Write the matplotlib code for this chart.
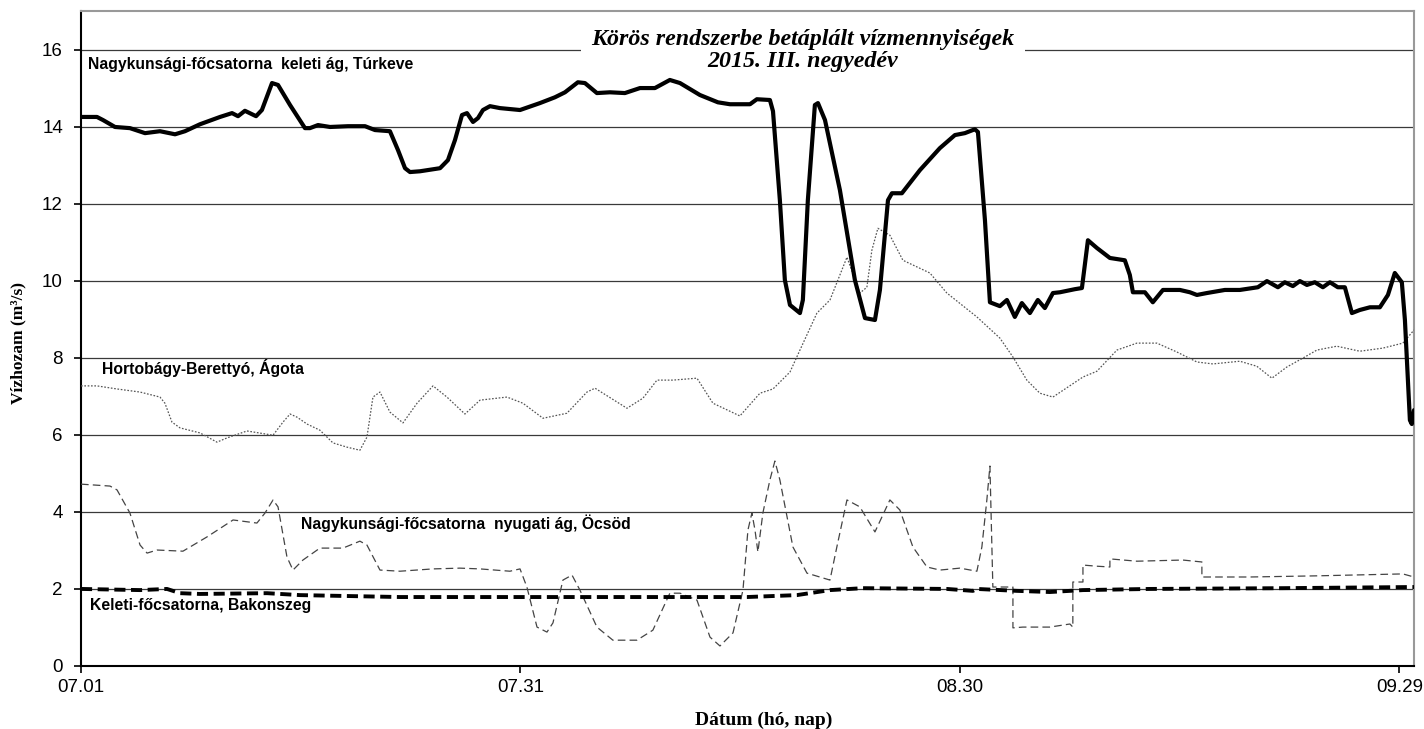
import matplotlib
matplotlib.use("Agg")
import matplotlib.pyplot as plt

plt.rcParams['lines.scale_dashes'] = False

# ---- data (x = days since 07.01, y = discharge m3/s) ----
turkeve_day = [0, 1.09, 1.5, 2.32, 3.34, 4.37, 5.39, 6.42, 7.1, 8.12, 9.49, 10.31, 10.72, 11.19,
               11.95, 12.35, 13.04, 13.45, 14.27, 15.29, 15.63, 16.18, 17.0, 18.23, 19.39, 20.07,
               21.09, 21.64, 22.12, 22.46, 23.14, 24.51, 25.05, 25.53, 26.01, 26.35, 26.76, 27.1,
               27.44, 27.92, 28.6, 29.97, 31.33, 32.35, 33.04, 33.92, 34.4, 35.22, 36.11, 37.13,
               38.16, 39.18, 40.2, 40.89, 42.25, 43.48, 44.3, 45.67, 46.14, 47.03, 47.24, 47.71,
               48.05, 48.4, 49.08, 49.28, 49.62, 50.1, 50.31, 50.79, 51.81, 52.83, 53.52, 54.2,
               54.54, 55.09, 55.36, 56.04, 57.27, 58.63, 59.66, 60.34, 61.02, 61.23, 61.71, 62.05,
               62.73, 63.21, 63.75, 64.23, 64.78, 65.32, 65.8, 66.35, 66.83, 67.85, 68.33, 68.74,
               69.35, 70.24, 71.26, 71.6, 71.81, 72.63, 73.17, 73.86, 75.02, 75.7, 76.18, 76.86,
               78.09, 79.11, 80.34, 80.96, 81.71, 82.18, 82.73, 83.21, 83.69, 84.23, 84.78, 85.26,
               85.8, 86.28, 86.76, 87.3, 87.99, 88.67, 89.22, 89.69, 90.17, 90.38, 90.72, 90.85, 91.0]
turkeve_q = [14.25, 14.25, 14.17, 13.99, 13.96, 13.83, 13.88, 13.80, 13.88, 14.06, 14.25, 14.35, 14.27, 14.41,
             14.27, 14.43, 15.13, 15.08, 14.56, 13.96, 13.96, 14.04, 13.99, 14.01, 14.01, 13.91,
             13.88, 13.39, 12.92, 12.82, 12.84, 12.92, 13.13, 13.65, 14.30, 14.35, 14.12, 14.22,
             14.43, 14.53, 14.48, 14.43, 14.61, 14.76, 14.89, 15.15, 15.13, 14.87, 14.89, 14.87,
             15.0, 15.0, 15.21, 15.13, 14.82, 14.63, 14.58, 14.58, 14.71, 14.69, 14.40, 12.09,
             10.02, 9.37, 9.16, 9.50, 12.09, 14.56, 14.61, 14.17, 12.35, 10.02, 9.03, 8.98,
             9.76, 12.09, 12.27, 12.27, 12.87, 13.44, 13.78, 13.83, 13.93, 13.86, 11.57, 9.44,
             9.34, 9.50, 9.06, 9.42, 9.16, 9.50, 9.29, 9.68, 9.70, 9.78, 9.81, 11.05,
             10.85, 10.59, 10.53, 10.15, 9.70, 9.70, 9.44, 9.76, 9.76, 9.70, 9.63, 9.68,
             9.76, 9.76, 9.83, 9.99, 9.83, 9.96, 9.86, 9.99, 9.89, 9.96, 9.83, 9.96,
             9.83, 9.83, 9.16, 9.24, 9.31, 9.31, 9.63, 10.2, 9.96, 8.98, 6.38, 6.28, 6.64]

agota_day = [0, 1.09, 2.46, 4.03, 5.39, 5.73, 6.21, 6.76, 8.12, 9.28, 9.97, 11.33, 13.11, 13.79,
             14.27, 14.74, 15.43, 16.31, 17.2, 18.16, 19.04, 19.52, 19.93, 20.41, 21.09, 21.98,
             22.94, 24.03, 24.98, 26.21, 27.24, 29.08, 30.17, 31.54, 33.17, 34.54, 35.09, 37.27,
             38.36, 39.32, 40.41, 42.05, 43.14, 44.98, 46.35, 47.24, 48.4, 49.08, 50.24, 51.13,
             52.29, 53.17, 53.65, 53.99, 54.4, 55.22, 56.11, 57.95, 59.11, 61.16, 62.73, 63.62,
             64.57, 65.46, 66.35, 68.4, 69.35, 70.72, 72.08, 73.45, 74.81, 76.18, 77.27, 79.11,
             80.27, 81.3, 82.32, 83.41, 84.37, 85.73, 87.3, 88.87, 90.24, 91.0]
agota_q = [7.27, 7.27, 7.19, 7.11, 6.98, 6.82, 6.33, 6.18, 6.05, 5.81, 5.92, 6.10, 5.99, 6.33,
           6.54, 6.46, 6.28, 6.12, 5.79, 5.68, 5.60, 5.94, 6.98, 7.11, 6.59, 6.31,
           6.82, 7.27, 6.98, 6.54, 6.90, 6.98, 6.82, 6.43, 6.56, 7.11, 7.21, 6.69,
           6.95, 7.42, 7.42, 7.47, 6.82, 6.49, 7.08, 7.19, 7.63, 8.20, 9.16, 9.50,
           10.61, 9.68, 9.83, 10.79, 11.36, 11.18, 10.53, 10.20, 9.68, 9.06, 8.51, 8.02,
           7.42, 7.08, 6.98, 7.50, 7.65, 8.20, 8.38, 8.38, 8.15, 7.89, 7.84, 7.91,
           7.78, 7.47, 7.76, 7.99, 8.20, 8.30, 8.17, 8.25, 8.38, 8.72]

ocsod_day = [0, 1.98, 2.46, 3.34, 4.03, 4.51, 5.19, 6.96, 8.6, 10.38, 12.01, 12.56, 13.11, 13.45,
             14.06, 14.47, 15.15, 16.31, 17.88, 19.04, 19.52, 20.41, 21.77, 24.03, 25.87, 27.24,
             29.28, 29.97, 30.44, 31.13, 31.81, 32.22, 32.9, 33.52, 34.06, 35.22, 36.31, 37.95,
             39.04, 40.2, 40.89, 42.05, 42.94, 43.62, 44.51, 45.19, 45.53, 45.8, 46.01, 46.21,
             46.55, 47.03, 47.37, 47.71, 48.6, 49.56, 51.13, 51.6, 52.29, 53.17, 54.2, 55.22,
             55.9, 56.79, 57.75, 58.63, 60.0, 61.16, 61.5, 61.84, 62.05, 62.25, 63.62, 63.62,
             64.3, 66.14, 67.51, 67.71, 67.71, 68.4, 68.4, 69.35, 70.24, 70.24, 72.08, 75.22,
             76.52, 76.52, 79.8, 84.37, 90.24, 91.0]
ocsod_q = [4.72, 4.67, 4.57, 3.97, 3.14, 2.93, 3.01, 2.98, 3.35, 3.79, 3.71, 3.97, 4.31, 4.13,
           2.83, 2.49, 2.75, 3.06, 3.06, 3.24, 3.14, 2.49, 2.46, 2.52, 2.54, 2.52,
           2.46, 2.52, 2.05, 1.01, 0.88, 1.12, 2.23, 2.36, 1.97, 1.01, 0.67, 0.67,
           0.93, 1.89, 1.89, 1.71, 0.75, 0.52, 0.86, 1.97, 3.53, 3.97, 3.53, 2.96,
           3.97, 4.83, 5.32, 4.83, 3.09, 2.41, 2.23, 3.09, 4.31, 4.13, 3.48, 4.31,
           4.05, 3.09, 2.57, 2.49, 2.54, 2.46, 3.09, 4.31, 5.19, 2.05, 2.05, 0.99,
           1.01, 1.01, 1.09, 1.01, 2.18, 2.18, 2.62, 2.59, 2.57, 2.78, 2.72, 2.75,
           2.70, 2.31, 2.31, 2.34, 2.39, 2.31]

bakonszeg_day = [0, 4.03, 5.87, 6.76, 8.12, 12.7, 14.95, 21.77, 27.24, 38.63, 45.46, 48.87, 51.13,
                 53.38, 59.11, 60.89, 61.16, 63.89, 66.14, 68.4, 72.97, 82.05, 91.0]
bakonszeg_q = [2.0, 1.97, 2.0, 1.89, 1.87, 1.89, 1.84, 1.79, 1.79, 1.79, 1.79, 1.84, 1.97,
               2.02, 2.0, 1.95, 2.0, 1.95, 1.92, 1.97, 2.0, 2.02, 2.05]

tick_days = [0, 30, 60, 90]
tick_labels = ["07.01", "07.31", "08.30", "09.29"]
y_ticks = [0, 2, 4, 6, 8, 10, 12, 14, 16]

title_text = "Körös rendszerbe betáplált vízmennyiségek\n2015. III. negyedév"
labels = {
    "turkeve": ("Nagykunsági-főcsatorna  keleti ág, Túrkeve", 0.48, 15.6),
    "agota": ("Hortobágy-Berettyó, Ágota", 1.43, 7.73),
    "ocsod": ("Nagykunsági-főcsatorna  nyugati ág, Öcsöd", 15.0, 3.71),
    "bakonszeg": ("Keleti-főcsatorna, Bakonszeg", 0.61, 1.56),
}

# ---- figure ----
fig = plt.figure(figsize=(14.24, 7.29), dpi=100)
ax = fig.add_axes([81/1424, 63/729, (1414-81)/1424, (666-11)/729])

for y in y_ticks[1:]:
    ax.axhline(y, color='#3a3a3a', lw=0.9, zorder=1)

ax.plot(agota_day, agota_q, color='#555555', lw=0.9, dashes=(1.2, 1.2), zorder=3,
        dash_joinstyle='round')
ax.plot(ocsod_day, ocsod_q, color='#444444', lw=0.9, dashes=(5.5, 3), zorder=3,
        dash_joinstyle='round')
ax.plot(bakonszeg_day, bakonszeg_q, color='black', lw=2.8, dashes=(8, 4), zorder=4,
        solid_capstyle='butt')
ax.plot(turkeve_day, turkeve_q, color='black', lw=3.0, zorder=5,
        solid_joinstyle='round', solid_capstyle='round')

ax.set_xlim(0, 91)
ax.set_ylim(0, 17)
ax.set_xticks(tick_days)
ax.set_xticklabels(tick_labels)
ax.set_yticks(y_ticks)

for lab in ax.get_xticklabels() + ax.get_yticklabels():
    lab.set_fontfamily('Liberation Sans')
    lab.set_fontsize(13.5)
ax.tick_params(axis='y', direction='out', length=5, width=1.2, pad=8, colors='black')
ax.tick_params(axis='x', direction='out', length=5, width=1.2, pad=4, colors='black')

ax.spines['left'].set_color('black')
ax.spines['bottom'].set_color('black')
ax.spines['left'].set_linewidth(1.5)
ax.spines['bottom'].set_linewidth(1.5)
ax.spines['top'].set_color('#999999')
ax.spines['right'].set_color('#999999')
ax.spines['top'].set_linewidth(1.5)
ax.spines['right'].set_linewidth(1.5)

ax.set_ylabel("Vízhozam (m³/s)", fontfamily='Liberation Serif', fontweight='bold', fontsize=12.5)
ax.yaxis.set_label_coords(-0.041, 0.493)
ax.set_xlabel("Dátum (hó, nap)", fontfamily='Liberation Serif', fontweight='bold', fontsize=14)
ax.xaxis.set_label_coords(0.512, -0.07)

ax.text(0.5416, 0.940, title_text, transform=ax.transAxes, ha='center', va='center',
        fontfamily='Liberation Serif', fontweight='bold', fontstyle='italic', fontsize=17.3,
        linespacing=1.1, zorder=2,
        bbox=dict(boxstyle='square,pad=0.45', facecolor='white', edgecolor='none'))

for key, (txt, xd, yd) in labels.items():
    ax.text(xd, yd, txt, ha='left', va='center', fontfamily='Liberation Sans',
            fontweight='bold', fontsize=11.3, zorder=6)

fig.savefig("out.png", dpi=100)
